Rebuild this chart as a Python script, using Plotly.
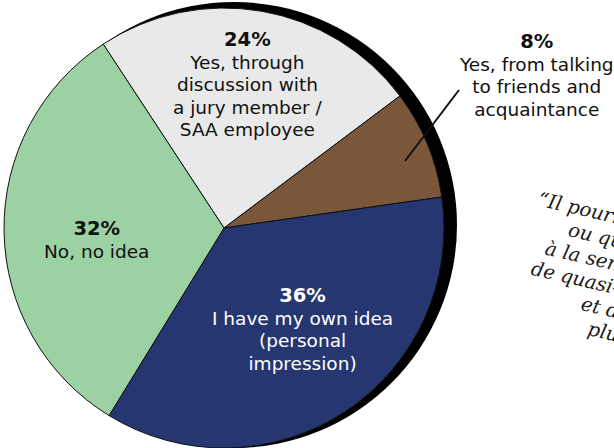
import plotly.graph_objects as go

# Survey answers (share of respondents, %)
label_lines = [
    ["Yes, through", "discussion with", "a jury member /", "SAA employee"],
    ["Yes, from talking", "to friends and", "acquaintance"],
    ["I have my own idea", "(personal", "impression)"],
    ["No, no idea"],
]
values = [24, 8, 36, 32]
colors = ["#e8e9e8", "#7a573a", "#253670", "#9bd1a3"]
text_colors = ["#111111", "#111111", "#ffffff", "#111111"]

quote_lines = [
    "\u201cIl pourrait \u00eatre utile, aussi,",
    "ou que l'on mette fin",
    "\u00e0 la sensation de flou, et",
    "de quasi-arbitraire per\u00e7ue",
    "et de la rendre",
    "plus lisible.\u201d",
]

W, H = 614, 448


def px(x):
    return x / W


def py(y):
    return 1 - y / H


fig = go.Figure()

# offset black disc giving the pie its shadow rim
fig.add_trace(go.Pie(
    values=[1],
    marker=dict(colors=["#000000"], line=dict(width=0)),
    textinfo="none", hoverinfo="skip", sort=False,
    domain=dict(x=[px(11), px(457)], y=[py(448), py(2)]),
))

fig.add_trace(go.Pie(
    labels=[" ".join(l) for l in label_lines],
    values=values,
    marker=dict(colors=colors, line=dict(color="#111111", width=1)),
    sort=False,
    direction="clockwise",
    rotation=-33.3,
    textinfo="none",
    hoverinfo="skip",
    domain=dict(x=[px(4), px(444)], y=[py(448), py(8)]),
))

# label anchor points (pixels): centre x, top y
label_pos = [(248, 26), (536, 28), (302, 282), (97, 215)]

sans = "DejaVu Sans, sans-serif"
annotations = []
for lines, val, col, (x, y) in zip(label_lines, values, text_colors, label_pos):
    body = [f"<span style='font-size:19.5px'><b>{val}%</b></span>"]
    body += [f"<span style='font-size:18.5px'>{t}</span>" for t in lines]
    annotations.append(dict(
        x=px(x), y=py(y), xref="paper", yref="paper",
        xanchor="center", yanchor="top", showarrow=False, align="center",
        text="<br>".join(body),
        font=dict(family=sans, size=17.4, color=col),
    ))

annotations.append(dict(
    x=px(660), y=py(286), xref="paper", yref="paper",
    xanchor="center", yanchor="middle", showarrow=False, align="center",
    text="<br>".join(f"<span style='font-size:19.5px'>{t}</span>" for t in quote_lines),
    textangle=13,
    font=dict(family="DejaVu Serif, serif", size=17.7, color="#1a1a1a", style="italic"),
))

fig.update_layout(
    width=W, height=H,
    margin=dict(l=0, r=0, t=0, b=0),
    paper_bgcolor="#ffffff",
    showlegend=False,
    annotations=annotations,
    shapes=[dict(type="line", xref="paper", yref="paper",
                 x0=px(405), y0=py(161), x1=px(459), y1=py(90),
                 line=dict(color="#111111", width=2))],
)

fig.write_html("out.html")
